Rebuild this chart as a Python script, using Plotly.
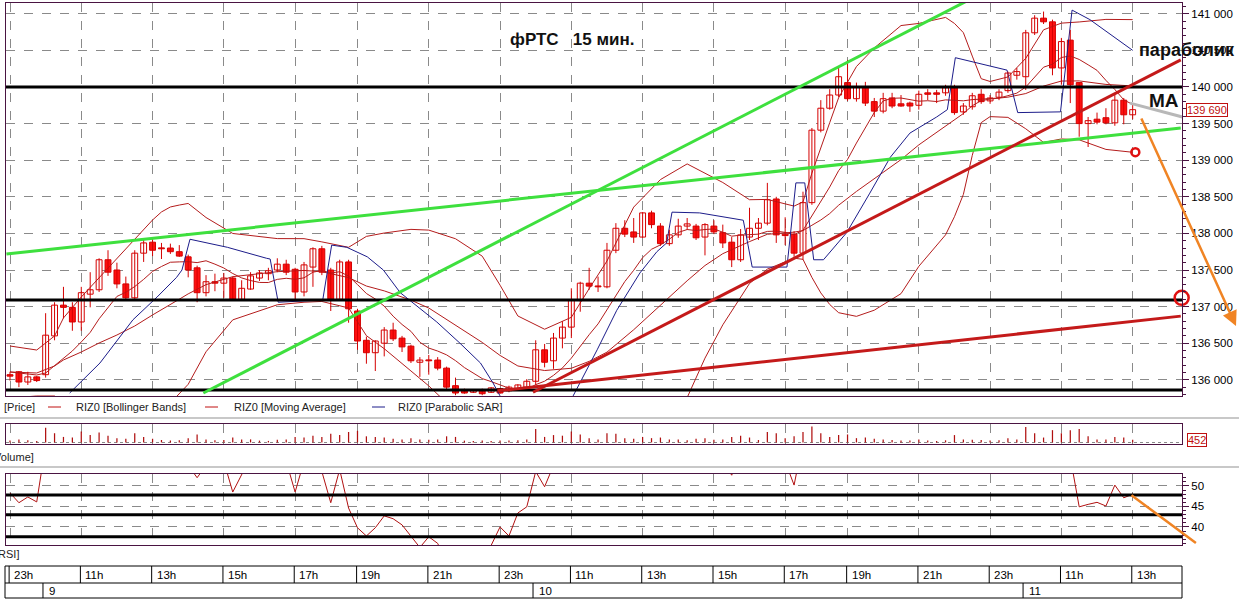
import plotly.graph_objects as go

# ---------------- data ----------------
bar_index = list(range(127))

open_ = [136070, 136110, 135970, 136040, 136070, 136600, 137020, 136990, 136790, 137170,
         137230, 137640, 137500, 137310, 137120, 137730, 137880, 137800, 137800, 137750,
         137680, 137530, 137190, 137340, 137320, 137390, 137100, 137240, 137390, 137450,
         137500, 137580, 137510, 137200, 137540, 137790, 137500, 137100, 137610, 136940,
         136540, 136370, 136500, 136680, 136570, 136460, 136240, 136270, 136270, 136160,
         135920, 135860, 135830, 135860, 135830, 135880, 135850, 135860, 135900, 135980,
         136410, 136260, 136570, 136720, 137090, 137320, 137280, 137270, 137770, 138070,
         138020, 137950, 138280, 138100, 137860, 137980, 138100, 138100, 137950, 138100,
         138010, 137880, 137640, 137950, 138070, 138140, 138470, 137990, 137990, 137730,
         138420, 139410, 139710, 139890, 140060, 139840, 140000, 139800, 139670, 139850,
         139770, 139780, 139750, 139920, 139920, 139920, 140000, 139660, 139730, 139900,
         139810, 139860, 139950, 140160, 140140, 140740, 140940, 140890, 140260, 140640,
         140060, 139500, 139560, 139580, 139510, 139820, 139620]
high = [136110, 136120, 136110, 136050, 136910, 137060, 137270, 137060, 137270, 137470,
        137660, 137770, 137600, 137410, 137770, 137910, 137940, 137870, 137860, 137840,
        137710, 137560, 137430, 137450, 137460, 137410, 137360, 137470, 137500, 137530,
        137660, 137640, 137530, 137610, 137810, 137830, 137530, 137640, 137640, 136970,
        136590, 136540, 136720, 136780, 136600, 136480, 136310, 136340, 136310, 136180,
        136030, 135880, 135860, 135880, 135900, 135890, 135920, 135940, 136010, 136540,
        136490, 136640, 136800, 137250, 137340, 137530, 137410, 137870, 138140, 138180,
        138210, 138290, 138310, 138140, 138050, 138200, 138210, 138130, 138140, 138180,
        138120, 137950, 138060, 138350, 138210, 138690, 138500, 138220, 138030, 138570,
        139440, 139820, 139970, 140260, 140370, 140060, 140070, 139850, 139920, 139920,
        139890, 139800, 139950, 139970, 139960, 140030, 140030, 139780, 139920, 139970,
        139890, 139970, 140210, 140260, 140780, 140980, 141030, 140920, 140670, 140780,
        140060, 139590, 139650, 139710, 139890, 139850, 139780]
low = [135990, 135900, 135930, 135970, 136030, 136540, 136840, 136670, 136670, 136990,
       137200, 137420, 137250, 137090, 137100, 137610, 137690, 137650, 137720, 137680,
       137400, 137060, 137140, 137210, 137120, 137080, 137080, 137230, 137350, 137360,
       137470, 137430, 137090, 137140, 137270, 137430, 136940, 137080, 136780, 136410,
       136220, 136120, 136320, 136530, 136380, 136230, 136040, 136070, 136130, 135870,
       135790, 135810, 135820, 135790, 135820, 135810, 135830, 135850, 135890, 135930,
       136170, 136150, 136430, 136570, 136930, 137230, 137200, 137250, 137730, 137950,
       137870, 137940, 138070, 137830, 137830, 137940, 138050, 137910, 137700, 137990,
       137800, 137540, 137610, 137910, 137910, 138110, 137870, 137840, 137680, 137640,
       138390, 139380, 139690, 139860, 139810, 139800, 139740, 139590, 139640, 139710,
       139730, 139660, 139690, 139820, 139780, 139880, 139620, 139620, 139690, 139770,
       139770, 139820, 139920, 140100, 139960, 140710, 140860, 140160, 140030, 139780,
       139320, 139180, 139490, 139490, 139470, 139490, 139560]
close = [136050, 135970, 136040, 135990, 136610, 137020, 136990, 136790, 137190, 137230,
         137640, 137470, 137310, 137120, 137730, 137870, 137770, 137790, 137750, 137690,
         137500, 137190, 137340, 137320, 137390, 137100, 137250, 137420, 137460, 137490,
         137580, 137470, 137200, 137570, 137790, 137470, 137100, 137610, 136970, 136530,
         136370, 136530, 136680, 136560, 136450, 136260, 136270, 136260, 136160, 135900,
         135820, 135820, 135850, 135810, 135890, 135820, 135900, 135930, 135980, 136410,
         136240, 136570, 136720, 137090, 137320, 137280, 137270, 137770, 138070, 137990,
         137950, 138280, 138120, 137860, 137980, 138100, 138130, 137940, 138120, 138020,
         137870, 137640, 137980, 138070, 138140, 138460, 137980, 137970, 137730, 138420,
         139410, 139710, 139890, 140140, 139840, 140000, 139780, 139670, 139840, 139740,
         139740, 139740, 139900, 139900, 139900, 139990, 139650, 139740, 139880, 139800,
         139850, 139930, 140190, 140210, 140740, 140940, 140890, 140260, 140620, 140030,
         139500, 139540, 139520, 139510, 139820, 139620, 139690]

# Bollinger Bands (upper / middle / lower) read at these bars
band_idx = [0, 3, 5, 6, 8, 10, 12, 14, 16, 17, 18, 19, 20, 22, 25, 30, 33, 35, 38, 40,
            42, 45, 47, 50, 53, 55, 57, 60, 63, 65, 67, 70, 73, 76, 78, 80, 83, 85, 88, 89,
            90, 91, 92, 93, 95, 97, 100, 102, 105, 106, 107, 108, 109, 110, 112, 114, 116, 118, 120, 123,
            126]
bb_mid = [136107, 136093, 136189, 136271, 136380, 136503, 136612, 136735, 136886, 136954,
          137022, 137101, 137174, 137300, 137409, 137477, 137494, 137477, 137396, 137281,
          137215, 137088, 136981, 136749, 136511, 136333, 136189, 136127, 136158, 136252,
          136378, 136684, 137023, 137353, 137561, 137723, 137888, 137988, 138017, 138038,
          138111, 138183, 138271, 138385, 138573, 138742, 139008, 139209, 139465, 139548,
          139637, 139744, 139813, 139835, 139861, 139910, 140012, 140081, 140083, 140035,
          140014]
bb_up = [136462, 136407, 136599, 136845, 137131, 137391, 137651, 137910, 138183, 138293,
         138361, 138387, 138409, 138217, 137999, 137929, 137928, 137884, 137810, 137959,
         138005, 138055, 138045, 137927, 137689, 137293, 136872, 136691, 136854, 137245,
         137623, 138359, 138735, 138949, 138826, 138695, 138460, 138464, 138373, 138430,
         138823, 139179, 139513, 139853, 140279, 140533, 140839, 140868, 140950, 140868,
         140742, 140422, 140113, 140075, 140137, 140391, 140781, 140872, 140888, 140923,
         140920]
bb_low = [135752, 135779, 135779, 135697, 135629, 135615, 135574, 135561, 135588, 135615,
          135683, 135815, 135939, 136383, 136819, 137025, 137060, 137070, 136982, 136603,
          136425, 136121, 135917, 135571, 135333, 135373, 135506, 135563, 135462, 135259,
          135133, 135009, 135311, 135757, 136296, 136751, 137316, 137512, 137661, 137646,
          137399, 137187, 137029, 136917, 136867, 136951, 137177, 137550, 137980, 138228,
          138532, 139066, 139513, 139595, 139585, 139429, 139243, 139290, 139278, 139147,
          139108]

# Moving Average, one value per bar
moving_avg = [136107, 136093, 136080, 136066, 136093, 136189, 136298, 136394, 136517, 136648,
              136833, 136992, 137139, 137196, 137274, 137372, 137481, 137548, 137606, 137611,
              137614, 137601, 137626, 137580, 137527, 137452, 137392, 137356, 137330, 137329,
              137372, 137387, 137373, 137393, 137470, 137494, 137459, 137476, 137418, 137301,
              137179, 137104, 137006, 136869, 136756, 136662, 136513, 136434, 136393, 136341,
              136262, 136167, 136088, 136017, 135976, 135926, 135886, 135860, 135869, 135934,
              135981, 136061, 136162, 136296, 136462, 136616, 136764, 136963, 137148, 137342,
              137496, 137669, 137783, 137843, 137921, 138013, 138053, 138039, 138053, 138061,
              138016, 137962, 137976, 137986, 137990, 138027, 138031, 138014, 137982, 138043,
              138240, 138432, 138634, 138857, 139010, 139234, 139436, 139651, 139809, 139846,
              139849, 139832, 139806, 139812, 139801, 139824, 139822, 139811, 139827, 139833,
              139846, 139849, 139881, 139916, 139999, 140142, 140270, 140312, 140403, 140423,
              140376, 140303, 140227, 140090, 139966, 139824, 139761]

volume = [300, 500, 350, 250, 2400, 1500, 900, 800, 1800, 1200,
          1600, 1100, 700, 600, 1500, 900, 600, 400, 300, 350,
          700, 1300, 500, 350, 400, 800, 500, 500, 300, 250,
          450, 500, 900, 800, 1100, 900, 1400, 1200, 1700, 1900,
          1000, 900, 800, 600, 500, 700, 500, 450, 500, 1000,
          900, 300, 250, 300, 250, 300, 300, 350, 500, 2200,
          900, 1200, 1100, 1800, 1300, 700, 500, 1500, 1400, 700,
          600, 900, 700, 800, 500, 500, 350, 600, 700, 450,
          500, 900, 1100, 800, 400, 1700, 1500, 700, 1000, 1700,
          2600, 1500, 900, 1200, 1300, 700, 800, 600, 500, 400,
          300, 300, 500, 300, 250, 350, 1200, 500, 450, 400,
          300, 350, 700, 500, 2500, 1500, 800, 2000, 1500, 2000,
          2200, 1000, 500, 500, 900, 800, 452]

rsi = [48.3, 45.9, 47.3, 46.1, 60, 65, 64, 60, 64, 64,
       68, 63, 58, 55, 63, 66, 62, 62, 61, 59,
       55, 52.0, 55, 55, 56, 48.5, 53.5, 57, 58, 58,
       60, 56, 48.5, 56, 60, 53.5, 45.9, 54, 44.6, 39.8,
       37.8, 39.8, 42.7, 42.0, 40.5, 37.8, 35.0, 37.6, 36.0, 31,
       28, 28, 29, 28, 35.5, 40.0, 37.8, 43.4, 44.9, 53.5,
       49.8, 55, 58, 64, 67, 66, 66, 70, 73, 70,
       68, 72, 66, 60, 62, 64, 64, 58, 62, 60,
       56, 52.6, 58, 60, 61, 66, 56, 56, 50.2, 61,
       74, 77, 79, 81, 74, 76, 70, 67, 69, 66,
       66, 66, 68, 68, 68, 69, 60, 62, 64, 62,
       63, 64, 68, 68, 75, 77, 76, 63, 67, 57,
       44.9, 45.5, 46.0, 45.1, 50.2, 47.1, 48.0]

hour_ticks = [0, 8, 16, 24, 32, 39, 47, 55, 63, 71, 79, 87, 94, 102, 110, 118, 126]
hour_labels = ["23h", "11h", "13h", "15h", "17h", "19h", "21h", "23h", "11h",
               "13h", "15h", "17h", "19h", "21h", "23h", "11h", "13h"]
date_ticks = [4, 59, 114]
date_labels = ["9", "10", "11"]
rsi_ticks = [40, 45, 50]

# Parabolic SAR as drawn (bar position, value); None = break
sar_idx = [6.7, 10.1, 13.8, 16.5, 18.7, 19.3, 20.2, 24.4, 28.8, 29.2, 30.1, 35.1, 36.1, 37.8,
           40.1, 41.9, 43.8, 46.0, 47.9, 50.5, 52.8, 54.2, 55.0, None,
           63.2, 65.9, 68.1, 70.7, 72.6, 73.7, 74.3, 77.4, 82.3, 83.3, 87.2, 88.2, 89.2, 90.2,
           91.3, 93.9, 96.5, 98.8, 101.0, 104.0, 105.2, 106.1, 111.9, 113.1, 117.9, 119.2,
           121.2, 126.0]
sar_val = [135820, 136230, 136820, 137130, 137400, 137500, 137920, 137810, 137660, 137650,
           137060, 137090, 137840, 137810, 137680, 137500, 137190, 136980, 136790, 136500,
           136230, 135960, 135780, None,
           135780, 136410, 136950, 137460, 137750, 137870, 138290, 138280, 138180, 137540,
           137540, 138690, 138690, 137640, 137640, 138010, 138550, 139040, 139370, 139590,
           139690, 140400, 140230, 139650, 139660, 141050, 140920, 140500]

# hand-drawn analysis lines (bar position, price)
level_prices = [140000, 137090, 135860]
green_lines = [([-0.4, 131.4], [137720, 139440]), ([21.7, 107.4], [135820, 141175])]
red_lines = [([58.7, 131.4], [135830, 140370]), ([54.7, 131.4], [135850, 136870])]
grey_line = ([125.7, 131.6], [139780, 139590])
orange_arrow = ([126.9, 137.6], [139590, 136735])
rsi_levels = [47.8, 43.0, 37.6]
rsi_orange = ([125.7, 133.1], [48.0, 36.1])
circle_small = (126.3, 139110)
circle_big = (131.5, 137120)
last_price = 139690
last_volume = 452

# ---------------- geometry / style ----------------
W, H = 1239, 601
FONT = "Liberation Sans, Arial, sans-serif"
FRAME = "#4a1442"
GRID = "#8a8a8a"
RED = "#d40000"
IND = "#b41c1c"
XL, XR = 6, 1182


def px(v):
    return v / W


def py(v):
    return 1 - v / H


xrange_ = [(XL - 10) / 8.91, (XR - 10) / 8.91]

fig = go.Figure()

# indicators (under candles)
for series in (bb_up, bb_mid, bb_low):
    fig.add_trace(go.Scatter(x=band_idx, y=series, mode="lines", line=dict(color=IND, width=1),
                             xaxis="x", yaxis="y", hoverinfo="skip"))
fig.add_trace(go.Scatter(x=bar_index, y=moving_avg, mode="lines", line=dict(color=IND, width=1),
                         xaxis="x", yaxis="y", hoverinfo="skip"))
fig.add_trace(go.Scatter(x=sar_idx, y=sar_val, mode="lines", connectgaps=False,
                         line=dict(color="#1c1c8a", width=1), xaxis="x", yaxis="y"))

# wicks
wx, wy = [], []
for i in bar_index:
    wx += [i, i, None]
    wy += [low[i], high[i], None]
fig.add_trace(go.Scatter(x=wx, y=wy, mode="lines", line=dict(color=RED, width=1),
                         xaxis="x", yaxis="y", hoverinfo="skip"))

up = [i for i in bar_index if close[i] >= open_[i]]
dn = [i for i in bar_index if close[i] < open_[i]]
for grp, fill in ((up, "white"), (dn, "#ff1010")):
    fig.add_trace(go.Bar(
        x=grp,
        base=[min(open_[i], close[i]) for i in grp],
        y=[max(abs(close[i] - open_[i]), 12) for i in grp],
        width=0.66, marker=dict(color=fill, line=dict(color=RED, width=1)),
        xaxis="x", yaxis="y", hoverinfo="skip"))

# analysis lines
for p in level_prices:
    fig.add_trace(go.Scatter(x=xrange_, y=[p, p], mode="lines",
                             line=dict(color="black", width=3), xaxis="x", yaxis="y"))
for gx, gy in green_lines:
    fig.add_trace(go.Scatter(x=gx, y=gy, mode="lines",
                             line=dict(color="#3ee03e", width=3), xaxis="x", yaxis="y"))
for rx, ry in red_lines:
    fig.add_trace(go.Scatter(x=rx, y=ry, mode="lines",
                             line=dict(color="#c41a1a", width=3), xaxis="x", yaxis="y"))
fig.add_trace(go.Scatter(x=grey_line[0], y=grey_line[1], mode="lines",
                         line=dict(color="#b8b8b8", width=3), xaxis="x", yaxis="y"))
fig.add_trace(go.Scatter(x=[circle_small[0]], y=[circle_small[1]], mode="markers",
                         marker=dict(symbol="circle-open", size=8, color="#e01010",
                                     line=dict(width=2.5)), xaxis="x", yaxis="y"))
fig.add_trace(go.Scatter(x=[circle_big[0]], y=[circle_big[1]], mode="markers", cliponaxis=False,
                         marker=dict(symbol="circle-open", size=14, color="#e01010",
                                     line=dict(width=2.5)), xaxis="x", yaxis="y"))

# volume
fig.add_trace(go.Bar(x=bar_index, y=volume, width=0.14, marker=dict(color="#b01010", line=dict(width=0)),
                     xaxis="x2", yaxis="y2"))

# RSI
fig.add_trace(go.Scatter(x=bar_index, y=rsi, mode="lines", line=dict(color="#b01010", width=1),
                         xaxis="x3", yaxis="y3"))
for lv in rsi_levels:
    fig.add_trace(go.Scatter(x=xrange_, y=[lv, lv], mode="lines",
                             line=dict(color="black", width=3), xaxis="x3", yaxis="y3"))

axis_common = dict(showline=True, mirror=True, linecolor=FRAME, linewidth=1, zeroline=False)

fig.update_layout(
    width=W, height=H, margin=dict(l=0, r=0, t=0, b=0),
    paper_bgcolor="white", plot_bgcolor="white", showlegend=False,
    barmode="overlay", separators=". ", hovermode=False,
    font=dict(family=FONT, size=11, color="black"),
    xaxis=dict(domain=[px(XL), px(XR)], range=xrange_, anchor="y", tickmode="array",
               tickvals=hour_ticks, showticklabels=False, ticks="",
               showgrid=True, gridcolor=GRID, griddash="dash", gridwidth=1, **axis_common),
    yaxis=dict(domain=[py(396), py(3)], range=[135779, 141147], anchor="x", side="right",
               tickmode="linear", tick0=136000, dtick=500, tickformat=",d",
               ticks="outside", ticklen=6, tickcolor=FRAME,
               minor=dict(dtick=100, ticks="outside", ticklen=3, tickcolor=FRAME, showgrid=False),
               showgrid=True, gridcolor=GRID, griddash="dash",
               tickfont=dict(size=11.5, family=FONT), **axis_common),
    yaxis4=dict(overlaying="y", anchor="x", side="left", range=[135779, 141147],
                tickmode="linear", tick0=136000, dtick=100, ticks="outside", ticklen=5,
                tickcolor=FRAME, showticklabels=False, showgrid=False, zeroline=False),
    xaxis2=dict(domain=[px(XL), px(XR)], matches="x", anchor="y2", tickmode="array",
                tickvals=hour_ticks, showticklabels=False, ticks="",
                showgrid=True, gridcolor=GRID, griddash="dash", **axis_common),
    yaxis2=dict(domain=[py(444), py(424)], range=[-250, 3000], anchor="x2",
                tickvals=[0], showticklabels=False, ticks="", showgrid=True,
                gridcolor=GRID, griddash="dot", **axis_common),
    xaxis3=dict(domain=[px(XL), px(XR)], matches="x", anchor="y3", tickmode="array",
                tickvals=hour_ticks, showticklabels=False, ticks="",
                showgrid=True, gridcolor=GRID, griddash="dash", **axis_common),
    yaxis3=dict(domain=[py(545), py(474)], range=[35.6, 52.9], anchor="x3", side="right",
                tickvals=rsi_ticks, ticks="outside", ticklen=6, tickcolor=FRAME,
                minor=dict(dtick=1, ticks="outside", ticklen=3, tickcolor=FRAME, showgrid=False),
                showgrid=True, gridcolor=GRID, griddash="dash",
                tickfont=dict(size=11.5, family=FONT), **axis_common),
)

shapes = []
for yy in (418, 467):
    shapes.append(dict(type="line", xref="paper", yref="paper", x0=0, x1=1, y0=py(yy), y1=py(yy),
                       line=dict(color="#c8c8c8", width=2)))
shapes.append(dict(type="rect", xref="paper", yref="paper", x0=px(5), x1=px(XR), y0=py(598), y1=py(566),
                   line=dict(color="black", width=1)))
shapes.append(dict(type="line", xref="paper", yref="paper", x0=px(5), x1=px(XR), y0=py(583), y1=py(583),
                   line=dict(color="black", width=1)))
for t in hour_ticks:
    shapes.append(dict(type="line", xref="x", yref="paper", x0=t - 0.1, x1=t - 0.1, y0=py(583), y1=py(566),
                       line=dict(color="black", width=1)))
for t in date_ticks:
    shapes.append(dict(type="line", xref="x", yref="paper", x0=t - 0.3, x1=t - 0.3, y0=py(598), y1=py(583),
                       line=dict(color="black", width=1)))
for x0, col in ((48, "#c01010"), (205, "#c01010"), (372, "#1c1c8a")):
    shapes.append(dict(type="line", xref="paper", yref="paper", x0=px(x0), x1=px(x0 + 13),
                       y0=py(407), y1=py(407), line=dict(color=col, width=1)))
fig.update_layout(shapes=shapes)

ann = []
for t, lab in zip(hour_ticks, hour_labels):
    ann.append(dict(x=t, y=py(575), xref="x", yref="paper", text=lab, showarrow=False,
                    xanchor="left", yanchor="middle", xshift=2, font=dict(size=11.5, family=FONT)))
for t, lab in zip(date_ticks, date_labels):
    ann.append(dict(x=t, y=py(591), xref="x", yref="paper", text=lab, showarrow=False,
                    xanchor="left", yanchor="middle", xshift=1, font=dict(size=11.5, family=FONT)))
for xx, txt in ((74, "RIZ0 [Bollinger Bands]"), (232, "RIZ0 [Moving Average]"), (396, "RIZ0 [Parabolic SAR]")):
    ann.append(dict(x=px(xx), y=py(407), xref="paper", yref="paper", text=txt, showarrow=False,
                    xanchor="left", yanchor="middle", font=dict(size=11, family=FONT, color="#222")))
for xx, yy, txt in ((37, 407, "[Price]"), (36, 457, "[Volume]"), (21, 554, "[RSI]")):
    ann.append(dict(x=px(xx), y=py(yy), xref="paper", yref="paper", text=txt, showarrow=False,
                    xanchor="right", yanchor="middle", font=dict(size=11, family=FONT, color="#222")))
ann.append(dict(x=px(1186), y=last_price, xref="paper", yref="y", text=f"{last_price:,}".replace(",", " "),
                showarrow=False, xanchor="left", yanchor="middle", bgcolor="white",
                bordercolor="#c01010", borderwidth=1, borderpad=0,
                font=dict(size=11, family=FONT, color="#c01010")))
ann.append(dict(x=px(1187), y=py(440), xref="paper", yref="paper", text=str(last_volume),
                showarrow=False, xanchor="left", yanchor="middle", bgcolor="white",
                bordercolor="#c01010", borderwidth=1, borderpad=0,
                font=dict(size=11, family=FONT, color="#c01010")))
ann.append(dict(x=px(572), y=py(40), xref="paper", yref="paper",
                text="<b>фРТС\u00a0\u00a0\u00a015 мин.</b>",
                showarrow=False, xanchor="center", yanchor="middle",
                font=dict(size=17, family=FONT, color="#111")))
ann.append(dict(x=px(1137), y=py(50), xref="paper", yref="paper", text="<b>параболик</b>",
                showarrow=False, xanchor="left", yanchor="middle",
                font=dict(size=18, family=FONT, color="#111")))
ann.append(dict(x=px(1147), y=py(101), xref="paper", yref="paper", text="<b>MA</b>",
                showarrow=False, xanchor="left", yanchor="middle",
                font=dict(size=19, family=FONT, color="#111")))
ann.append(dict(x=orange_arrow[0][1], y=orange_arrow[1][1], ax=orange_arrow[0][0], ay=orange_arrow[1][0],
                xref="x", yref="y", axref="x", ayref="y", text="", showarrow=True,
                arrowhead=2, arrowsize=1.2, arrowwidth=2.5, arrowcolor="#f08424"))
ann.append(dict(x=rsi_orange[0][1], y=rsi_orange[1][1], ax=rsi_orange[0][0], ay=rsi_orange[1][0],
                xref="x3", yref="y3", axref="x3", ayref="y3", text="", showarrow=True,
                arrowhead=0, arrowwidth=2.5, arrowcolor="#f08424"))
fig.update_layout(annotations=ann)

fig.write_html("out.html", config={"displayModeBar": False, "staticPlot": True},
               post_script="document.body.style.margin='0px';")
